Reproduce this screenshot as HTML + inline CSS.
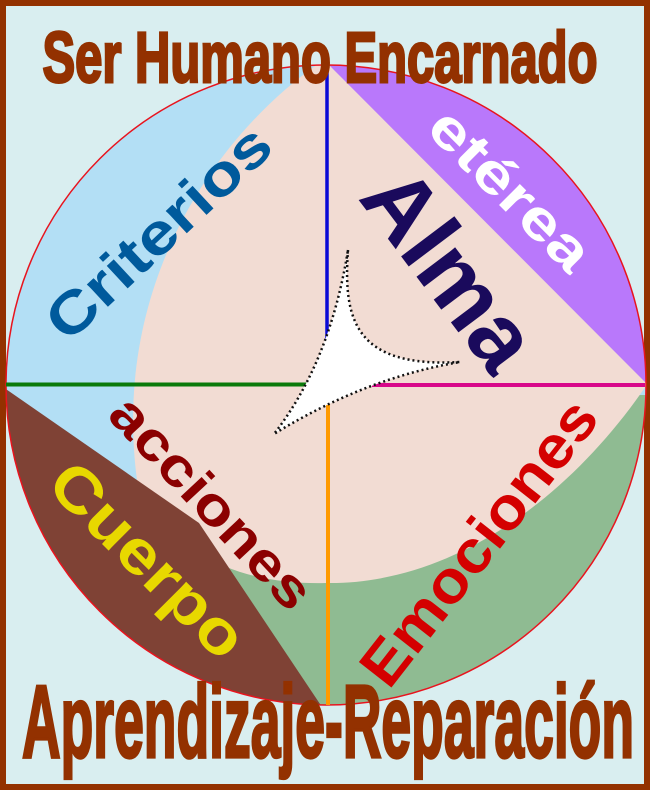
<!DOCTYPE html>
<html><head><meta charset="utf-8"><style>
html,body{margin:0;padding:0;background:#933100}
svg{display:block}
text{font-family:"Liberation Sans",sans-serif;font-weight:bold}
</style></head><body>
<svg width="650" height="790" viewBox="0 0 650 790" xmlns="http://www.w3.org/2000/svg">
<rect x="0" y="0" width="650" height="790" fill="#933100"/>
<rect x="6" y="6" width="638" height="778" fill="#d9eef0"/>
<defs>
<clipPath id="c"><circle cx="326" cy="385" r="320"/></clipPath>
</defs>
<g clip-path="url(#c)">
<rect x="0" y="60" width="650" height="660" fill="#b3dff5"/>
<rect x="190" y="395" width="460" height="320" fill="#8fbb92"/>
<path d="M318,64 C210,140 112,290 137,480 C170,560 250,585 326,583 C450,585 570,500 650,380 L650,60 Z" fill="#f2dcd3"/>
<path d="M0,385 L199,523 L324,710 L0,710 Z" fill="#7f4235"/>
<path d="M328,64 L645,382 L650,382 L650,60 Z" fill="#b978fb"/>
</g>
<circle cx="326" cy="385" r="320" fill="none" stroke="#e8141e" stroke-width="1.5"/>
<line x1="327" y1="65" x2="327" y2="354" stroke="#0a0ad6" stroke-width="3.5"/>
<line x1="6" y1="384.5" x2="307" y2="384.5" stroke="#0a7a0a" stroke-width="4"/>
<line x1="372" y1="385" x2="645" y2="385" stroke="#d8088a" stroke-width="4"/>
<line x1="328" y1="405" x2="328" y2="705" stroke="#ff9a00" stroke-width="4"/>
<path d="M348,250 C343,320 355,368 460,362 Q365,378 274,434 Q330,362 348,250 Z" fill="#fff" stroke="#111" stroke-width="2.5" stroke-dasharray="2,3"/>
<g transform="translate(0,82) scale(1,1.15)">
<text x="320" y="0" font-size="62" fill="#933100" stroke="#933100" stroke-width="2.5" text-anchor="middle" textLength="555" lengthAdjust="spacingAndGlyphs">Ser Humano  Encarnado</text>
</g>
<g transform="translate(0,757) scale(1,1.05)">
<text x="328" y="0" font-size="98" fill="#933100" stroke="#933100" stroke-width="3" text-anchor="middle" textLength="612" lengthAdjust="spacingAndGlyphs">Aprendizaje-Reparación</text>
</g>
<text font-size="58" fill="#005a9c" text-anchor="middle" textLength="285" lengthAdjust="spacingAndGlyphs" transform="translate(172,247) rotate(-43)">Criterios</text>
<text font-size="56" fill="#ffffff" text-anchor="middle" textLength="205" lengthAdjust="spacingAndGlyphs" transform="translate(497,203) rotate(45)">etérea</text>
<text font-size="92" fill="#1a0a5c" text-anchor="middle" textLength="225" lengthAdjust="spacingAndGlyphs" transform="translate(425,288) rotate(53)">Alma</text>
<text font-size="54" fill="#8b0000" text-anchor="middle" textLength="270" lengthAdjust="spacingAndGlyphs" transform="translate(198,515) rotate(47)">acciones</text>
<text font-size="62" fill="#e8d800" text-anchor="middle" textLength="250" lengthAdjust="spacingAndGlyphs" transform="translate(133,575) rotate(45)">Cuerpo</text>
<text font-size="60" fill="#d40000" text-anchor="middle" textLength="345" lengthAdjust="spacingAndGlyphs" transform="translate(495,555) rotate(-52)">Emociones</text>
</svg>
</body></html>
